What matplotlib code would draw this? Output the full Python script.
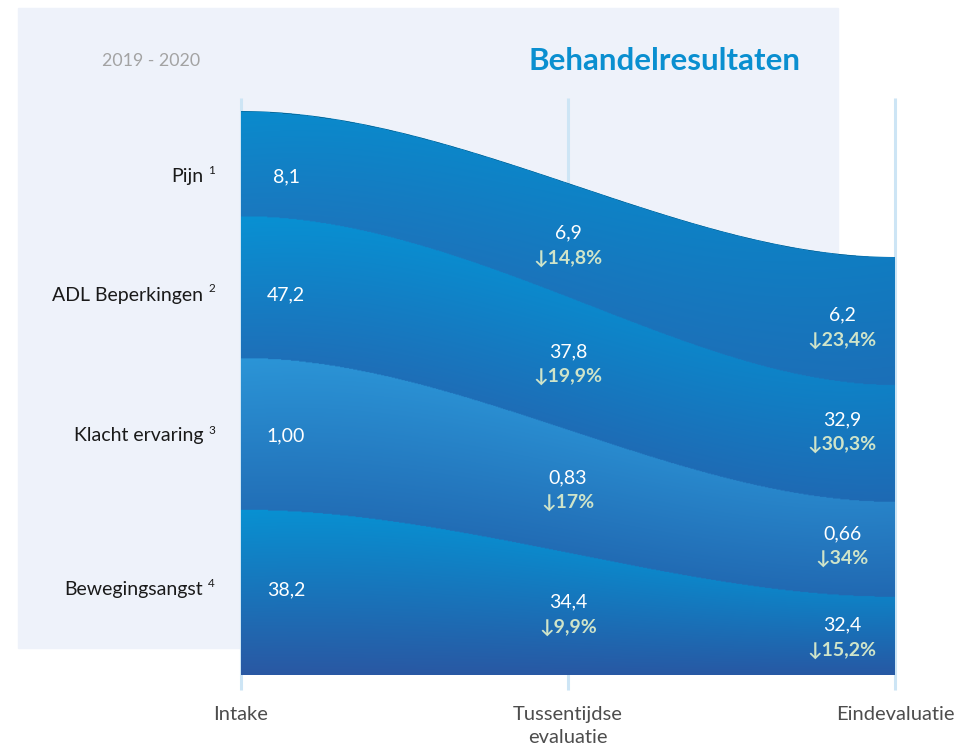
import matplotlib
matplotlib.use("Agg")
import matplotlib.pyplot as plt
import numpy as np
from matplotlib.colors import to_rgb
from matplotlib.patches import Rectangle, Polygon

# ---- data -------------------------------------------------------------
STAGES = ["Intake", "Tussentijdse\nevaluatie", "Eindevaluatie"]
SERIES = ["Pijn", "ADL Beperkingen", "Klacht ervaring", "Bewegingsangst"]
FOOTNOTES = ["1", "2", "3", "4"]

pijn = [8.1, 6.9, 6.2]
adl = [47.2, 37.8, 32.9]
klacht = [1.00, 0.83, 0.66]
beweg = [38.2, 34.4, 32.4]

# reduction versus intake (%), for the 2nd and 3rd measurement
pijn_pct = [14.8, 23.4]
adl_pct = [19.9, 30.3]
klacht_pct = [17, 34]
beweg_pct = [9.9, 15.2]

# band thickness of each stream (arbitrary units)
pijn_band = [105, 114, 128]
adl_band = [142, 133, 117]
klacht_band = [152, 123, 95]
beweg_band = [165, 122, 78]

values = [pijn, adl, klacht, beweg]
pcts = [pijn_pct, adl_pct, klacht_pct, beweg_pct]
bands = [pijn_band, adl_band, klacht_band, beweg_band]
val_dec = [1, 1, 2, 1]
pct_dec = [1, 1, 0, 1]

# label nudges (pixels downward from band centre), per series and stage
LABEL_DY = [[13, 5, 6], [8, 0, -12], [2, -2, -4], [-3, 0, 1]]

# gradient colours (top, bottom) per band
BAND_COLORS = [
    ("#0a8bcd", "#1a78bf"),
    ("#0891d3", "#1e70b9"),
    ("#2b95d7", "#226fb7"),
    ("#0891d2", "#2a58a3"),
]
DARK = np.array(to_rgb("#1f5aa6"))
PANEL = "#eef2fa"
GRID = "#cde5f5"
TITLE_BLUE = "#0a8fd0"
PCT_COLOR = "#cfe4c9"

plt.rcParams["font.family"] = ["Lato", "DejaVu Sans"]


def fmt(v, d):
    return f"{v:.{d}f}".replace(".", ",")


def smooth(pts, x):
    """Cubic Hermite through the three stages, flat at both ends."""
    v0, v1, v2 = pts
    m = 0.75 * (v2 - v0)
    out = np.empty_like(x, dtype=float)
    for lo, (p0, p1, m0, m1) in enumerate([(v0, v1, 0.0, m), (v1, v2, m, 0.0)]):
        sel = (x >= lo) & (x <= lo + 1)
        t = x[sel] - lo
        out[sel] = ((2 * t**3 - 3 * t**2 + 1) * p0 + (t**3 - 2 * t**2 + t) * m0
                    + (-2 * t**3 + 3 * t**2) * p1 + (t**3 - t**2) * m1)
    return out


# cumulative boundaries, bottom band (Bewegingsangst) on the baseline
order = [3, 2, 1, 0]
xs = np.linspace(0, 2, 800)
bottoms, tops = {}, {}
acc = np.zeros(3)
for i in order:
    lo = acc.copy()
    acc = acc + np.array(bands[i])
    bottoms[i] = (lo, smooth(lo, xs))
    tops[i] = (acc.copy(), smooth(acc, xs))
ymax = tops[0][0].max()

fig = plt.figure(figsize=(9.71, 7.52), dpi=100)
W, H = 971, 752
fig.patches.append(Rectangle((18 / W, 1 - 648 / H), 820 / W, 640 / H,
                             transform=fig.transFigure, color=PANEL, zorder=-5))

ax = fig.add_axes([241 / W, 77 / H, 654 / W, 564 / H])
ax.set_xlim(0, 2)
ax.set_ylim(0, ymax)
ax.axis("off")
ax.patch.set_alpha(0)

# vertical stage lines
ax.vlines(range(3), -15, ymax + 13, color=GRID, linewidth=2.2, zorder=1, clip_on=False)

# gradient image of all bands
ny = 700
gy = np.linspace(0, ymax, ny)
GX, GY = np.meshgrid(xs, gy)
img = np.zeros((ny, len(xs), 4))
for i in order:
    b = bottoms[i][1][None, :]
    t_ = tops[i][1][None, :]
    inside = (GY >= b) & (GY <= t_)
    frac = np.clip((t_ - GY) / (t_ - b), 0, 1)[..., None]
    c_top, c_bot = np.array(to_rgb(BAND_COLORS[i][0])), np.array(to_rgb(BAND_COLORS[i][1]))
    col = c_top * (1 - frac) + c_bot * frac
    k = (0.3 * GX / 2)[..., None]
    col = col * (1 - k) + DARK * k
    img[..., :3] = np.where(inside[..., None], col, img[..., :3])
    img[..., 3] = np.where(inside, 1.0, img[..., 3])

verts = np.vstack([np.column_stack([xs, tops[0][1]]), [[2, 0], [0, 0]]])
outline = Polygon(verts, closed=True, facecolor=BAND_COLORS[0][0], edgecolor="none", zorder=2)
ax.add_patch(outline)
im = ax.imshow(img, extent=[0, 2, 0, ymax], origin="lower", aspect="auto",
               interpolation="bilinear", zorder=3)
im.set_clip_path(outline)

# labels
FS = 14
for i in range(4):
    mids = (bottoms[i][0] + tops[i][0]) / 2
    dy = LABEL_DY[i]
    # row label with footnote
    ax.annotate(SERIES[i], (0, mids[0]), xytext=(-38, -dy[0]), textcoords="offset pixels",
                ha="right", va="center", fontsize=FS, color="#1a1a1a", annotation_clip=False)
    ax.annotate(FOOTNOTES[i], (0, mids[0]), xytext=(-33, 6 - dy[0]), textcoords="offset pixels",
                ha="left", va="center", fontsize=8.5, color="#1a1a1a", annotation_clip=False)
    ax.annotate(fmt(values[i][0], val_dec[i]), (0, mids[0]), xytext=(45, -dy[0]),
                textcoords="offset pixels", ha="center", va="center", fontsize=FS,
                color="white", zorder=5)
    for s, dx in [(1, 0), (2, -53)]:
        ax.annotate(fmt(values[i][s], val_dec[i]), (s, mids[s]), xytext=(dx, 12 - dy[s]),
                    textcoords="offset pixels", ha="center", va="center", fontsize=FS,
                    color="white", zorder=5, annotation_clip=False)
        ax.annotate("↓" + fmt(pcts[i][s - 1], pct_dec[i]) + "%", (s, mids[s]),
                    xytext=(dx, -13 - dy[s]), textcoords="offset pixels", ha="center",
                    va="center", fontsize=FS, fontweight="bold", color=PCT_COLOR, zorder=5,
                    annotation_clip=False)

for s, name in enumerate(STAGES):
    ax.annotate(name, (s, 0), xytext=(0, -31), textcoords="offset pixels", ha="center",
                va="top", fontsize=14.5, color="#4d4d4d",
                linespacing=1.45, annotation_clip=False)

fig.text(151 / W, 1 - 61 / H, "2019 - 2020", ha="center", va="center",
         fontsize=12.8, color="#a3a3a3")
fig.text(800 / W, 1 - 61 / H, "Behandelresultaten", ha="right", va="center",
         fontsize=22.5, fontweight="bold", color=TITLE_BLUE)

fig.savefig("out.png", dpi=100)
